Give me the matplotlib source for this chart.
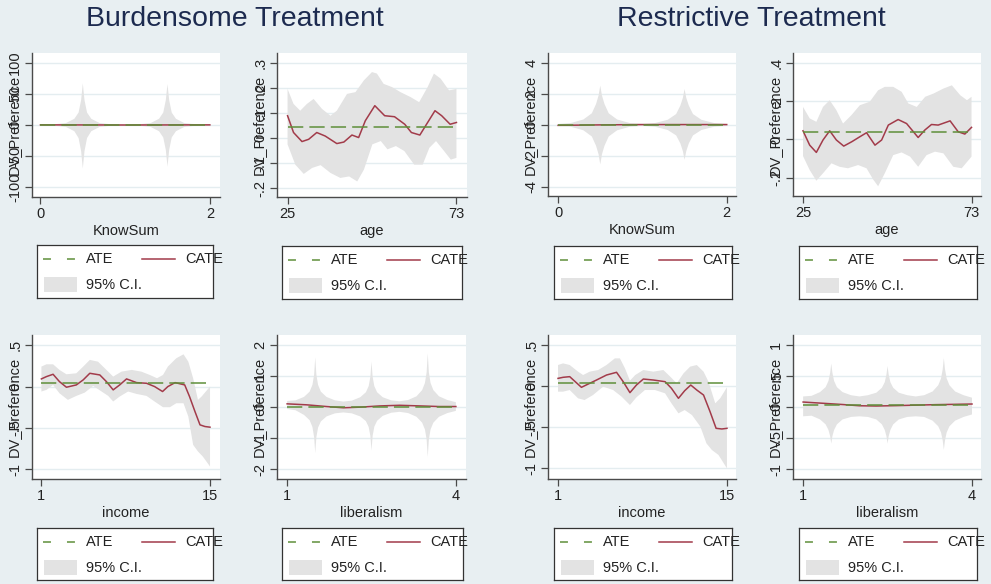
import matplotlib
matplotlib.use('Agg')
import matplotlib.pyplot as plt
from matplotlib.patches import Rectangle
from matplotlib.lines import Line2D

plt.rcParams['font.family'] = ['Liberation Sans', 'DejaVu Sans']

# ---- data ----
group_titles = ['Burdensome Treatment', 'Restrictive Treatment']
ylab = 'DV_Preference'

# KnowSum panels (shared x grid for the CI)
ks_x = [0, 0.15, 0.3, 0.4, 0.45, 0.48, 0.5, 0.52, 0.55, 0.6, 0.7, 0.85, 1.0,
        1.15, 1.3, 1.4, 1.45, 1.48, 1.5, 1.52, 1.55, 1.6, 1.7, 1.85, 2.0]
ks_b_hi = [0.5, 1, 3, 10, 20, 40, 67, 40, 20, 10, 3, 1, 0.5,
           1, 3, 10, 20, 40, 66, 40, 20, 10, 3, 1, 0.5]
ks_b_lo = [-0.5, -1, -3, -10, -21, -42, -70, -42, -21, -10, -3, -1, -0.5,
           -1, -3, -10, -20, -40, -67, -40, -20, -10, -3, -1, -0.5]
ks_r_hi = [0.06, 0.12, 0.35, 0.75, 1.35, 1.9, 2.54, 1.9, 1.35, 0.75, 0.35, 0.12, 0.06,
           0.12, 0.33, 0.7, 1.25, 1.75, 2.32, 1.75, 1.25, 0.7, 0.33, 0.12, 0.06]
ks_r_lo = [-0.06, -0.12, -0.35, -0.75, -1.35, -1.9, -2.56, -1.9, -1.35, -0.75, -0.35, -0.12, -0.06,
           -0.12, -0.33, -0.68, -1.2, -1.7, -2.26, -1.7, -1.2, -0.68, -0.33, -0.12, -0.06]
ks_cate_x = [0, 0.5, 1, 1.5, 2]
ks_b_cate = [0.2, 0.1, 0.0, 0.1, 0.2]
ks_r_cate = [-0.03, 0.0, 0.02, 0.02, 0.02]
ks_b_ate = 0.1
ks_r_ate = 0.01

# age, burdensome
age_b_x = [25, 26.7, 29.1, 31, 33.3, 35.7, 39, 41, 43.3, 45.2, 47.1, 49.8, 52.6,
           55.4, 58.3, 60.2, 62.6, 64.5, 66.9, 68.8, 71.2, 73]
age_b_cate = [0.090, 0.023, -0.013, -0.004, 0.023, 0.009, -0.021, -0.015, 0.013, 0.003,
              0.070, 0.130, 0.090, 0.086, 0.056, 0.023, 0.013, 0.056, 0.110, 0.090, 0.056, 0.063]
age_b_hi_x = [25, 26.7, 28.6, 30.5, 32.4, 34.8, 37.2, 39, 41.9, 44.3, 46.7, 49, 50.4,
              52.3, 54.7, 57.1, 60, 62.4, 64.8, 66.6, 68.5, 70.9, 73]
age_b_hi = [0.197, 0.137, 0.110, 0.137, 0.157, 0.117, 0.090, 0.110, 0.177, 0.184, 0.231,
            0.264, 0.258, 0.217, 0.204, 0.184, 0.164, 0.144, 0.204, 0.258, 0.238, 0.191, 0.197]
age_b_lo_x = [25, 27.2, 29.6, 32, 34.4, 37.2, 40, 42.5, 44.8, 46.7, 49.1, 51.5, 53.4,
              55.8, 58.2, 61, 63.4, 65.3, 67.2, 69.5, 71.4, 73]
age_b_lo = [-0.024, -0.105, -0.142, -0.118, -0.107, -0.138, -0.158, -0.152, -0.172, -0.125,
            -0.024, -0.011, -0.044, -0.031, -0.051, -0.105, -0.105, -0.038, -0.011, -0.051,
            -0.085, -0.078]
age_b_ate = 0.046

# age, restrictive
age_r_x = [25, 26.9, 28.8, 30.7, 32.6, 34.5, 36.6, 38.9, 41.2, 43.1, 45.5, 47.4, 49.3,
           52.1, 54.5, 57.8, 59.7, 61.6, 63.5, 66.9, 69.2, 71.1, 73]
age_r_cate = [0.045, -0.030, -0.068, -0.003, 0.045, -0.003, -0.035, -0.012, 0.014, 0.035,
              -0.030, -0.003, 0.075, 0.104, 0.083, 0.010, 0.049, 0.078, 0.075, 0.097, 0.040,
              0.028, 0.063]
age_r_hi_x = [25, 26.9, 28.8, 30.7, 32.6, 34.5, 36.4, 38.8, 41.2, 44, 46.4, 48.3, 50.7,
              53.1, 55, 57.4, 59.8, 62.2, 65, 67.4, 69.8, 71.7, 73]
age_r_hi = [0.170, 0.110, 0.092, 0.170, 0.205, 0.153, 0.083, 0.127, 0.179, 0.197, 0.257,
            0.275, 0.275, 0.249, 0.188, 0.170, 0.223, 0.240, 0.266, 0.283, 0.231, 0.205, 0.223]
age_r_lo_x = [25, 26.9, 28.8, 30.7, 33.1, 35.4, 37.8, 40.7, 43.1, 45, 46.4, 48.3, 50.7,
              53.1, 55.5, 57.8, 60.2, 62.6, 65, 67.8, 70.2, 73]
age_r_lo = [-0.087, -0.160, -0.216, -0.177, -0.125, -0.143, -0.151, -0.134, -0.151, -0.210,
            -0.245, -0.177, -0.082, -0.068, -0.090, -0.143, -0.082, -0.064, -0.073, -0.143,
            -0.151, -0.090]
age_r_ate = 0.040

# income, burdensome
inc_b_x = [1, 1.42, 1.97, 2.5, 3.08, 3.9, 4.47, 5.02, 5.85, 6.4, 6.96, 7.5, 8.07, 8.9,
           9.73, 10.4, 11.06, 11.5, 12.1, 12.9, 13.3, 13.75, 14.17, 14.58, 15]
inc_b_cate = [0.093, 0.121, 0.149, 0.060, -0.008, 0.020, 0.081, 0.161, 0.141, 0.060, -0.040,
              0.020, 0.093, 0.048, 0.040, 0.0, -0.060, 0.0, 0.048, 0.020, -0.121, -0.302,
              -0.464, -0.484, -0.492]
inc_b_hi_x = [1, 1.42, 1.97, 2.5, 3.08, 3.9, 4.47, 5.02, 5.7, 6.4, 6.96, 7.65, 8.5, 9.3,
              10, 10.6, 11.1, 11.5, 12.2, 12.8, 13.2, 13.6, 14.0, 14.3, 15]
inc_b_hi = [0.242, 0.270, 0.270, 0.202, 0.149, 0.161, 0.242, 0.323, 0.302, 0.202, 0.121,
            0.181, 0.202, 0.181, 0.141, 0.101, 0.141, 0.242, 0.343, 0.391, 0.302, 0.101,
            -0.161, -0.121, 0.0]
inc_b_lo_x = [1, 1.42, 1.97, 2.5, 3.2, 3.9, 4.6, 5.3, 6, 6.55, 6.96, 7.5, 8.2, 8.9, 9.73,
              10.4, 11.1, 11.67, 12.2, 12.8, 13.2, 13.6, 14.0, 14.4, 15]
inc_b_lo = [-0.060, -0.040, 0.020, -0.081, -0.161, -0.113, -0.073, 0.008, -0.060, -0.113,
            -0.181, -0.121, -0.060, -0.089, -0.113, -0.181, -0.250, -0.250, -0.202, -0.202,
            -0.363, -0.706, -0.786, -0.847, -0.968]
inc_b_ate = 0.048

# income, restrictive
inc_r_x = [1, 1.42, 1.97, 2.94, 3.63, 4.19, 5.02, 5.85, 6.4, 6.96, 7.5, 8.07, 8.9, 9.87,
           10.4, 10.98, 11.5, 12, 12.5, 13.06, 13.6, 14.1, 14.58, 15]
inc_r_cate = [0.093, 0.106, 0.114, -0.016, 0.033, 0.073, 0.134, 0.167, 0.053, -0.081, 0.012,
              0.085, 0.073, 0.053, -0.028, -0.150, -0.057, 0.012, -0.049, -0.110, -0.313,
              -0.516, -0.524, -0.516]
inc_r_hi_x = [1, 1.42, 1.97, 2.66, 3.08, 3.63, 4.33, 5.02, 5.71, 6.13, 6.55, 6.96, 7.4,
              8.07, 8.9, 9.73, 10.3, 10.84, 11.4, 11.95, 12.5, 13.06, 13.47, 14.03, 14.44, 15]
inc_r_hi = [0.256, 0.276, 0.256, 0.175, 0.134, 0.175, 0.195, 0.256, 0.337, 0.337, 0.215,
            0.065, 0.134, 0.195, 0.175, 0.195, 0.114, 0.033, 0.154, 0.236, 0.256, 0.175,
            0.053, -0.211, -0.150, -0.016]
inc_r_lo_x = [1, 1.42, 1.97, 2.66, 3.2, 3.9, 4.74, 5.57, 6.27, 6.96, 7.5, 8.2, 9.04, 9.87,
              10.4, 10.98, 11.5, 12.1, 12.8, 13.3, 13.75, 14.3, 15]
inc_r_lo = [-0.069, -0.069, -0.049, -0.150, -0.171, -0.110, -0.008, -0.049, -0.130, -0.232,
            -0.138, -0.049, -0.049, -0.089, -0.211, -0.333, -0.293, -0.354, -0.496, -0.699,
            -0.780, -0.841, -1.004]
inc_r_ate = 0.041

# liberalism panels (shared x grid for the CI)
lib_x = [1.0, 1.15, 1.3, 1.4, 1.45, 1.48, 1.5, 1.52, 1.55, 1.6, 1.7, 1.85, 2.0,
         2.15, 2.3, 2.4, 2.45, 2.48, 2.5, 2.52, 2.55, 2.6, 2.7, 2.85, 3.0,
         3.15, 3.3, 3.4, 3.45, 3.48, 3.5, 3.52, 3.55, 3.6, 3.7, 3.85, 4.0]
lib_b_hi = [0.2, 0.22, 0.33, 0.5, 0.72, 1.05, 1.61, 1.05, 0.72, 0.5, 0.33, 0.22, 0.18,
            0.21, 0.32, 0.48, 0.68, 0.98, 1.47, 0.98, 0.68, 0.48, 0.32, 0.22, 0.19,
            0.23, 0.35, 0.55, 0.78, 1.12, 1.74, 1.12, 0.78, 0.55, 0.35, 0.23, 0.16]
lib_b_lo = [-0.06, -0.1, -0.25, -0.42, -0.64, -0.97, -1.48, -0.97, -0.66, -0.46, -0.3, -0.2, -0.17,
            -0.2, -0.3, -0.45, -0.64, -0.93, -1.40, -0.93, -0.63, -0.44, -0.28, -0.18, -0.15,
            -0.19, -0.31, -0.5, -0.72, -1.04, -1.61, -1.04, -0.72, -0.5, -0.31, -0.19, -0.12]
lib_r_hi = [0.17, 0.18, 0.24, 0.32, 0.42, 0.55, 0.70, 0.55, 0.42, 0.32, 0.24, 0.19, 0.17,
            0.19, 0.23, 0.31, 0.40, 0.52, 0.66, 0.52, 0.40, 0.31, 0.23, 0.19, 0.17,
            0.19, 0.25, 0.35, 0.46, 0.61, 0.79, 0.61, 0.46, 0.35, 0.25, 0.19, 0.15]
lib_r_lo = [-0.15, -0.14, -0.2, -0.28, -0.37, -0.47, -0.59, -0.47, -0.37, -0.28, -0.2, -0.16, -0.15,
            -0.16, -0.2, -0.28, -0.37, -0.47, -0.59, -0.47, -0.37, -0.28, -0.2, -0.16, -0.15,
            -0.16, -0.22, -0.31, -0.41, -0.54, -0.69, -0.54, -0.41, -0.31, -0.22, -0.16, -0.12]
lib_cate_x = [1, 1.35, 1.7, 2.0, 2.3, 2.65, 3.0, 3.36, 3.7, 4]
lib_b_cate = [0.107, 0.075, 0.02, -0.02, 0.0, 0.04, 0.06, 0.04, 0.02, 0.02]
lib_r_cate = [0.08, 0.06, 0.04, 0.02, 0.016, 0.022, 0.03, 0.038, 0.043, 0.048]
lib_b_ate = 0.02
lib_r_ate = 0.032

BG = '#E8EFF2'
ATE_C = '#5F8F3A'
CATE_C = '#A23B4A'
CI_C = '#E3E3E3'
AX_C = '#4A4A4A'
GRID_C = '#E4EDF0'

W, H = 991, 584


def rect(l, t, r, b):
    return [l / W, 1 - b / H, (r - l) / W, (b - t) / H]


def fmt(v):
    s = ('%g' % v)
    s = s.replace('0.', '.') if abs(v) < 1 and v != 0 else s
    return s


# each panel: data, x label, ticks, limits, axes box (px), legend box (px)
panels = [
    dict(hix=ks_x, hi=ks_b_hi, lox=ks_x, lo=ks_b_lo, mx=ks_cate_x, m=ks_b_cate,
         ate=ks_b_ate, xl='KnowSum', xt=[0, 2], yt=[-100, -50, 0, 50, 100],
         xlim=(-0.10, 2.12), ylim=(-116, 116), box=(32, 53, 220, 197), leg=(37, 245, 213, 298)),
    dict(hix=age_b_hi_x, hi=age_b_hi, lox=age_b_lo_x, lo=age_b_lo, mx=age_b_x, m=age_b_cate,
         ate=age_b_ate, xl='age', xt=[25, 73], yt=[-0.2, -0.1, 0, 0.1, 0.2, 0.3],
         xlim=(22, 76), ylim=(-0.234, 0.34), box=(277, 53, 467, 197), leg=(282, 246, 462, 299)),
    dict(hix=ks_x, hi=ks_r_hi, lox=ks_x, lo=ks_r_lo, mx=ks_cate_x, m=ks_r_cate,
         ate=ks_r_ate, xl='KnowSum', xt=[0, 2], yt=[-4, -2, 0, 2, 4],
         xlim=(-0.12, 2.11), ylim=(-4.6, 4.65), box=(548, 53, 736, 196), leg=(554, 246, 732, 299)),
    dict(hix=age_r_hi_x, hi=age_r_hi, lox=age_r_lo_x, lo=age_r_lo, mx=age_r_x, m=age_r_cate,
         ate=age_r_ate, xl='age', xt=[25, 73], yt=[-0.2, 0, 0.2, 0.4],
         xlim=(22.15, 75.7), ylim=(-0.296, 0.452), box=(793, 53, 981, 196), leg=(799, 246, 977, 299)),
    dict(hix=inc_b_hi_x, hi=inc_b_hi, lox=inc_b_lo_x, lo=inc_b_lo, mx=inc_b_x, m=inc_b_cate,
         ate=inc_b_ate, xl='income', xt=[1, 15], yt=[-1, -0.5, 0, 0.5],
         xlim=(0.22, 15.83), ylim=(-1.12, 0.625), box=(32, 335, 220, 479), leg=(37, 528, 213, 580)),
    dict(hix=lib_x, hi=lib_b_hi, lox=lib_x, lo=lib_b_lo, mx=lib_cate_x, m=lib_b_cate,
         ate=lib_b_ate, xl='liberalism', xt=[1, 4], yt=[-2, -1, 0, 1, 2],
         xlim=(0.82, 4.18), ylim=(-2.32, 2.33), box=(277, 335, 466, 479), leg=(282, 528, 463, 580)),
    dict(hix=inc_r_hi_x, hi=inc_r_hi, lox=inc_r_lo_x, lo=inc_r_lo, mx=inc_r_x, m=inc_r_cate,
         ate=inc_r_ate, xl='income', xt=[1, 15], yt=[-1, -0.5, 0, 0.5],
         xlim=(0.17, 15.75), ylim=(-1.134, 0.622), box=(548, 335, 736, 479), leg=(554, 528, 732, 580)),
    dict(hix=lib_x, hi=lib_r_hi, lox=lib_x, lo=lib_r_lo, mx=lib_cate_x, m=lib_r_cate,
         ate=lib_r_ate, xl='liberalism', xt=[1, 4], yt=[-1, -0.5, 0, 0.5, 1],
         xlim=(0.82, 4.16), ylim=(-1.16, 1.16), box=(793, 335, 981, 479), leg=(799, 528, 977, 580)),
]

fig = plt.figure(figsize=(9.91, 5.84), dpi=100)
fig.patch.set_facecolor(BG)

fig.text(235 / W, 1 - 19 / H, group_titles[0], ha='center', va='center',
         fontsize=20.5, color='#1C2A4F')
fig.text(751 / W, 1 - 19 / H, group_titles[1], ha='center', va='center',
         fontsize=20.5, color='#1C2A4F')

for p in panels:
    l, t, r, b = p['box']
    ax = fig.add_axes(rect(l, t, r, b))
    ax.set_facecolor('white')

    # CI band: upper and lower read separately, close into one polygon
    poly_x = list(p['hix']) + list(p['lox'])[::-1]
    poly_y = list(p['hi']) + list(p['lo'])[::-1]
    ax.fill(poly_x, poly_y, color=CI_C, lw=0, zorder=2)
    ax.plot(p['mx'], p['m'], color=CATE_C, lw=1.1, zorder=3)
    x0, x1 = p['mx'][0], p['mx'][-1]
    ax.plot([x0, x1], [p['ate'], p['ate']], color=ATE_C, lw=1.1,
            linestyle=(0, (10, 4)), zorder=4)

    ax.set_xlim(*p['xlim'])
    ax.set_ylim(*p['ylim'])
    ax.set_xticks(p['xt'])
    ax.set_xticklabels([fmt(v) for v in p['xt']])
    ax.set_yticks(p['yt'])
    ax.set_yticklabels([fmt(v) for v in p['yt']])
    ax.yaxis.grid(True, color=GRID_C, lw=1.0)
    ax.set_axisbelow(True)
    for s in ['top', 'right']:
        ax.spines[s].set_visible(False)
    for s in ['left', 'bottom']:
        ax.spines[s].set_color(AX_C)
        ax.spines[s].set_linewidth(1.0)
    ax.tick_params(direction='out', length=5, width=0.9, color=AX_C,
                   labelsize=10.5, labelcolor='#222222', pad=2)
    ax.tick_params(axis='y', labelrotation=90)
    for lab in ax.get_yticklabels():
        lab.set_va('center')

    # Stata squeezes the y title on top of the rotated tick labels
    ax.set_xlabel(p['xl'], fontsize=10.5, color='#222222')
    ax.xaxis.set_label_coords(0.5, -34 / (b - t))
    ax.xaxis.label.set_va('center')
    ax.set_ylabel(ylab, fontsize=10.5, color='#222222')
    ax.yaxis.set_label_coords(-18 / (r - l), 0.5)
    ax.yaxis.label.set_va('center')

    # legend box, Stata style (text may run past the frame)
    ll, lt, lr, lb = p['leg']
    lw_, lh_ = lr - ll, lb - lt
    lax = fig.add_axes(rect(ll, lt, lr, lb))
    lax.set_xlim(0, lw_)
    lax.set_ylim(lh_, 0)
    lax.set_xticks([])
    lax.set_yticks([])
    lax.set_facecolor('white')
    for s in lax.spines.values():
        s.set_color('#333333')
        s.set_linewidth(0.9)
    lax.add_line(Line2D([6, 40], [14, 14], color=ATE_C, lw=1.1,
                        linestyle=(0, (5.2, 10.5))))
    lax.text(49, 14, 'ATE', va='center', ha='left', fontsize=10.5, color='#222222', clip_on=False)
    lax.add_line(Line2D([105, 138], [14, 14], color=CATE_C, lw=1.1))
    lax.text(148, 14, 'CATE', va='center', ha='left', fontsize=10.5, color='#222222', clip_on=False)
    lax.add_patch(Rectangle((7, 32), 33, 15, color=CI_C, lw=0))
    lax.text(49, 40, '95% C.I.', va='center', ha='left', fontsize=10.5, color='#222222', clip_on=False)

fig.savefig('out.png', dpi=100, facecolor=BG)
